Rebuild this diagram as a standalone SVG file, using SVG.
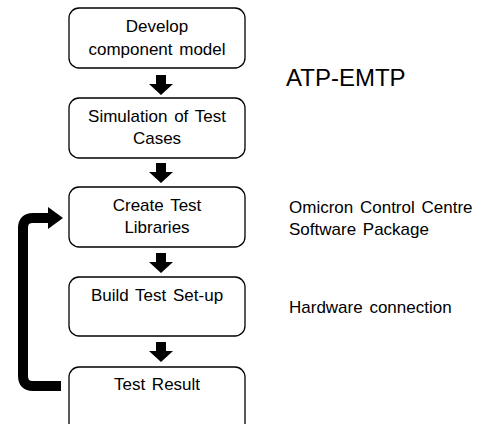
<svg xmlns="http://www.w3.org/2000/svg" width="481" height="424" viewBox="0 0 481 424">
  <style>
    .box { fill: #ffffff; stroke: #000000; stroke-width: 1.3; }
    .lbl { font-family: "Liberation Sans", Arial, sans-serif; font-size: 17px; word-spacing: 2px; fill: #000000; text-anchor: middle; }
    .side { font-family: "Liberation Sans", Arial, sans-serif; font-size: 17px; word-spacing: 2px; fill: #000000; }
    .big { font-family: "Liberation Sans", Arial, sans-serif; font-size: 24px; fill: #000000; }
    .blk { fill: #000000; }
  </style>
  <defs>
    <!-- block down-arrow, origin at top centre -->
    <path id="down" d="M -5 0 H 5 V 9 H 12 L 0 20 L -12 9 H -5 Z"/>
  </defs>
  <rect width="481" height="424" fill="#ffffff"/>

  <g id="develop">
    <rect class="box" x="69" y="8" width="176" height="60" rx="10"/>
    <text class="lbl" x="157" y="32">Develop</text>
    <text class="lbl" x="157" y="55">component model</text>
  </g>
  <g id="simulation">
    <rect class="box" x="69" y="98" width="176" height="60" rx="10"/>
    <text class="lbl" x="157" y="122">Simulation of Test</text>
    <text class="lbl" x="157" y="144">Cases</text>
  </g>
  <g id="create">
    <rect class="box" x="69" y="187" width="176" height="60" rx="10"/>
    <text class="lbl" x="157" y="211">Create Test</text>
    <text class="lbl" x="157" y="233">Libraries</text>
  </g>
  <g id="build">
    <rect class="box" x="69" y="277" width="176" height="59" rx="10"/>
    <text class="lbl" x="157" y="301">Build Test Set-up</text>
  </g>
  <g id="result">
    <rect class="box" x="69" y="367" width="176" height="70" rx="10"/>
    <text class="lbl" x="157" y="390">Test Result</text>
  </g>

  <g id="notes">
    <text class="big" x="286" y="86">ATP-EMTP</text>
    <text class="side" x="289" y="213">Omicron Control Centre</text>
    <text class="side" x="289" y="235">Software Package</text>
    <text class="side" x="289" y="313">Hardware connection</text>
  </g>

  <g id="connectors">
    <use class="blk" href="#down" x="161" y="75"/>
    <use class="blk" href="#down" x="161" y="163"/>
    <use class="blk" href="#down" x="161" y="253"/>
    <use class="blk" href="#down" x="161" y="342"/>
    <!-- feedback loop: Test Result back to Create Test Libraries -->
    <path d="M 61 386 H 33 Q 23 386 23 376 V 228 Q 23 218 33 218 H 50" fill="none" stroke="#000" stroke-width="10"/>
    <path class="blk" d="M 48 207 L 63 218 L 48 229 Z"/>
  </g>
</svg>
